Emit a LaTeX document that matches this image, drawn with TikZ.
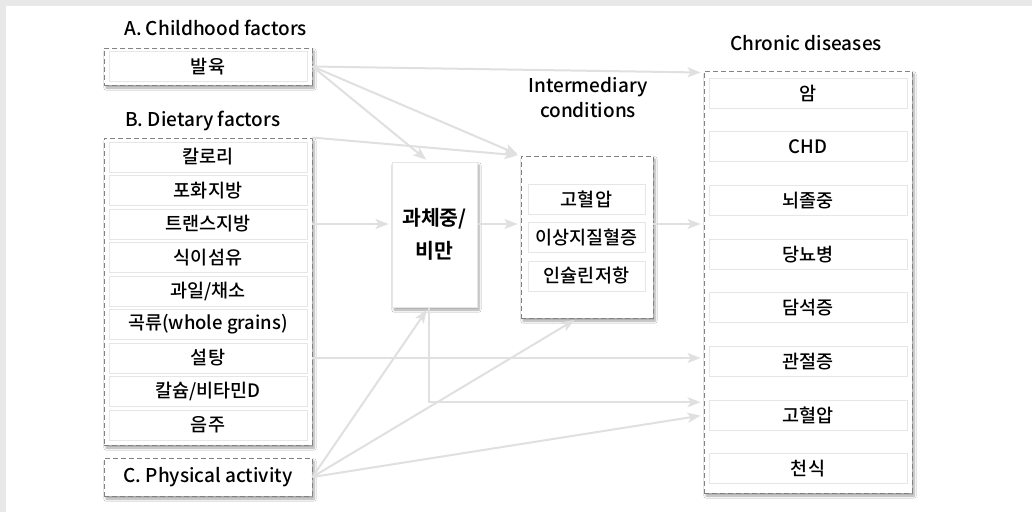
\documentclass[tikz,border=0pt]{standalone}
\usepackage{fontspec}
\setmainfont{Noto Sans CJK KR}[UprightFont=* Medium, BoldFont=* Bold]
\usepackage{tikz}
\usetikzlibrary{arrows.meta, shadows.blur}
\definecolor{mybg}{RGB}{232,232,232}
\definecolor{myline}{RGB}{224,224,224}
\definecolor{myframe}{RGB}{230,230,230}
\definecolor{mydash}{RGB}{130,130,130}
\tikzset{
  item/.style={draw=myframe, fill=white, line width=1, minimum width=198, 
    minimum height=30, inner sep=0, font=\fontsize{18.5}{20}\selectfont},
  group/.style={draw=mydash, dashed, dash pattern=on 5 off 3, fill=white, line width=0.9, 
    inner sep=0, blur shadow={shadow xshift=2, shadow yshift=-3, shadow blur steps=6, shadow opacity=35}},
  bigbox/.style={draw=myframe, fill=white, line width=1, minimum width=85, minimum height=145,
    inner sep=0, align=center, font=\fontsize{20.5}{33}\selectfont\bfseries,
    blur shadow={shadow xshift=2, shadow yshift=-3, shadow blur steps=6, shadow opacity=35}},
  title/.style={inner sep=0, align=center, font=\fontsize{19}{25}\selectfont},
  link/.style={draw=myline, line width=2, shorten >=3,
    -{Stealth[length=13, width=10, inset=3]}}
}

\begin{document}
\begin{tikzpicture}[x=1pt, y=-1pt]

\useasboundingbox (0,0) rectangle (1032,512);
\fill[mybg] (0,0) rectangle (1032,512);
\fill[white] (6,6) rectangle (1032,512);

% groups
\node [group, minimum width=208, minimum height=37] (grpA) at (208,66.5) {};
\node [group, minimum width=208, minimum height=307] (grpB) at (208,291.5) {};
\node [group, minimum width=208, minimum height=38, font=\fontsize{19}{20}\selectfont] (grpC) at (208,477) {C. Physical activity};
\node [group, minimum width=132, minimum height=162] (inter) at (587,237) {};
\node [group, minimum width=208, minimum height=422] (chron) at (808,282) {};

\node [title, anchor=west] (tA) at (124,28) {A. Childhood factors};
\node [title, anchor=west] (tB) at (125,121) {B. Dietary factors};
\node [title] (tI) at (588,98) {Intermediary\\conditions};
\node [title] (tC) at (806,43) {Chronic diseases};

\node [item] (a1) at (208,66.5) {발육};

\node [item] (b1) at (208,157) {칼로리};
\node [item] (b2) at (208,190.5) {포화지방};
\node [item] (b3) at (208,224) {트랜스지방};
\node [item] (b4) at (208,257.5) {식이섬유};
\node [item] (b5) at (208,291) {과일/채소};
\node [item] (b6) at (208,324.5) {곡류(whole grains)};
\node [item] (b7) at (208,358) {설탕};
\node [item] (b8) at (208,391.5) {칼슘/비타민D};
\node [item] (b9) at (208,425) {음주};

\node [bigbox] (ob) at (434.5,234.5) {과체중/\\비만};

\node [item, minimum width=117] (i1) at (586.5,199) {고혈압};
\node [item, minimum width=117] (i2) at (586.5,237) {이상지질혈증};
\node [item, minimum width=117] (i3) at (586.5,276) {인슐린저항};

\node [item] (c1) at (808,93) {암};
\node [item] (c2) at (808,146.7) {CHD};
\node [item] (c3) at (808,200.4) {뇌졸중};
\node [item] (c4) at (808,254.1) {당뇨병};
\node [item] (c5) at (808,307.8) {담석증};
\node [item] (c6) at (808,361.5) {관절증};
\node [item] (c7) at (808,415.2) {고혈압};
\node [item] (c8) at (808,468.9) {천식};

% arrows
\draw [link] (grpA.east) -- ([yshift=-2]chron.north west);
\draw [link] (grpA.east) -- ([xshift=-6]ob.north);
\draw [link] (grpA.east) -- (inter.north west);
\draw [link] (grpB.north east) -- (inter.north west);

\draw [link] (b3.east -| grpB.east) -- (b3.east -| ob.west);
\draw [link] (b3.east -| ob.east) -- (b3.east -| inter.west);
\draw [link] (b3.east -| inter.east) -- (b3.east -| chron.west);
\draw [link] (b7.east -| grpB.east) -- (b7.east -| chron.west);
\draw [link] ([xshift=-6]ob.south) |- ([yshift=13]c7.west -| chron.west);

\draw [link] (grpC.east) -- ([xshift=-6]ob.south);
\draw [link] (grpC.east) -- ([xshift=-10]inter.south);
\draw [link] (grpC.east) -- (c7.west -| chron.west);

\end{tikzpicture}
\end{document}
